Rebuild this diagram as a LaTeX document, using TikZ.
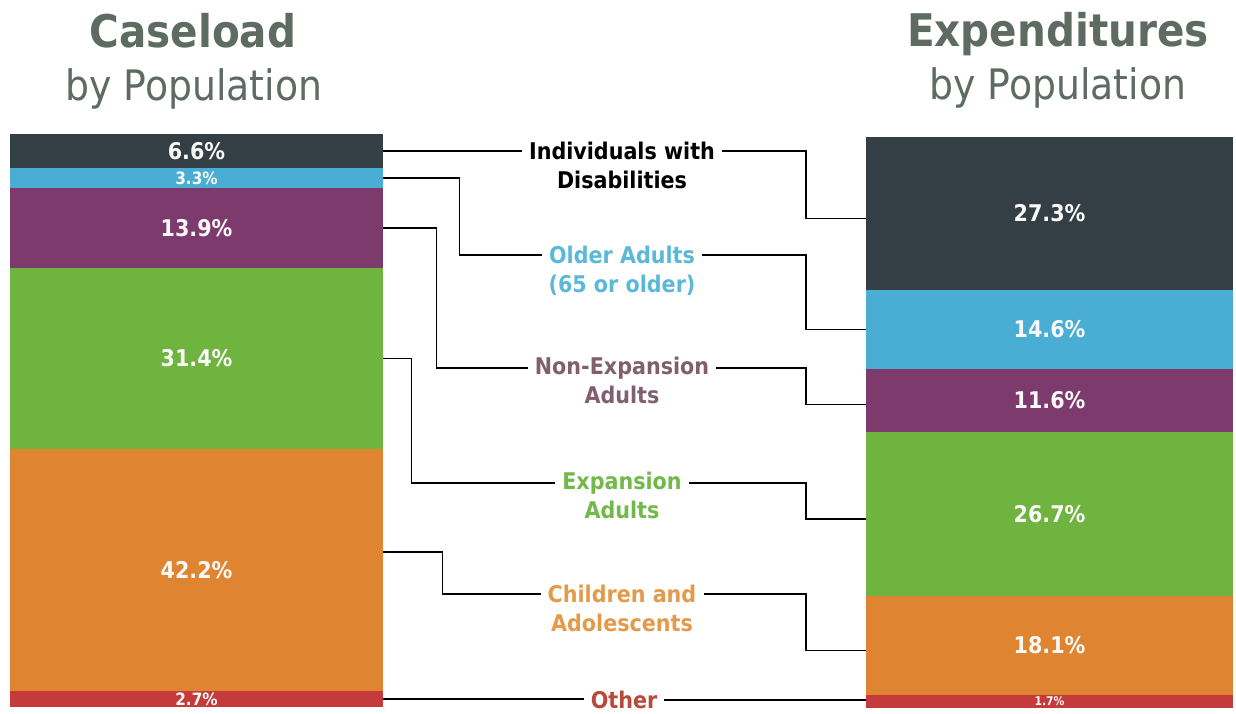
\documentclass[tikz,border=0pt]{standalone}
\usepackage{fontspec}
\setmainfont{DejaVu Sans Condensed}

\definecolor{cdis}{HTML}{333F45}
\definecolor{cold}{HTML}{4AAED4}
\definecolor{cnon}{HTML}{7D3A6C}
\definecolor{cexp}{HTML}{6EB43F}
\definecolor{ckid}{HTML}{DF8430}
\definecolor{coth}{HTML}{C53A3A}
\definecolor{lold}{HTML}{5BB8D8}
\definecolor{lnon}{HTML}{80606F}
\definecolor{lexp}{HTML}{72B84A}
\definecolor{lkid}{HTML}{E39A4A}
\definecolor{loth}{HTML}{B84A3C}
\definecolor{ttlgray}{HTML}{5D6B62}

\tikzset{
    seg/.style={rectangle, inner sep=0pt, draw=none, text=white!95!gray},
    lbl/.style={font=\bfseries\fontsize{23}{23}\selectfont, inner xsep=7pt, inner ysep=0pt},
    ttl/.style={text=ttlgray, anchor=base, inner sep=0pt},
    link/.style={draw=black, line width=1.3pt}
}

\begin{document}
\begin{tikzpicture}[x=1pt, y=-1pt]
        \useasboundingbox (0,0) rectangle (1236,713);
        % Titles
        \node[ttl, font=\bfseries\fontsize{45}{45}\selectfont] (cl-title) at (193,47) {Caseload};
        \node[ttl, font=\fontsize{42}{42}\selectfont] (cl-sub) at (194,100) {by Population};
        \node[ttl, font=\bfseries\fontsize{45}{45}\selectfont] (ex-title) at (1058,46) {Expenditures};
        \node[ttl, font=\fontsize{42}{42}\selectfont] (ex-sub) at (1058,99) {by Population};
        % Caseload bar
        \foreach \name/\top/\bot/\col/\pct/\fs in {
            dis/134/168/cdis/6.6\%/23,
            old/168/188/cold/3.3\%/17,
            non/188/268/cnon/13.9\%/23,
            exp/268/449/cexp/31.4\%/23,
            kid/449/691/ckid/42.2\%/23,
            oth/691/707/coth/2.7\%/17} {
            \node[
                seg,
                fill=\col,
                font=\bfseries\fontsize{\fs}{\fs}\selectfont,
                minimum width=373pt,
                minimum height={(\bot-\top)*1pt}
            ] (L-\name) at (196.5,{(\top+\bot)/2}) {\pct};
        }
        % Expenditures bar
        \foreach \name/\top/\bot/\col/\pct/\fs in {
            dis/137/290/cdis/27.3\%/23,
            old/290/369/cold/14.6\%/23,
            non/369/432/cnon/11.6\%/23,
            exp/432/596/cexp/26.7\%/23,
            kid/596/695/ckid/18.1\%/23,
            oth/695/708/coth/1.7\%/12} {
            \node[
                seg,
                fill=\col,
                font=\bfseries\fontsize{\fs}{\fs}\selectfont,
                minimum width=367pt,
                minimum height={(\bot-\top)*1pt}
            ] (R-\name) at (1049.5,{(\top+\bot)/2}) {\pct};
        }
        % Population labels
        \foreach \name/\y/\first/\second/\col in {
            dis/151/Individuals with/Disabilities/black,
            old/255/Older Adults/(65 or older)/lold,
            non/368/Non-Expansion/Adults/lnon,
            exp/483/Expansion/Adults/lexp,
            kid/594/Children and/Adolescents/lkid} {
            \node[lbl, text=\col] (\name) at (622,\y) {\first};
            \node[lbl, text=\col, anchor=base] (\name-b) at ([yshift=-29pt]\name.base) {\second};
        }
        \node[lbl, text=loth] (oth) at (624,700) {Other};
        % Bend line on the right
        \coordinate (jR) at (806,0);
        % Connect caseload to labels
        \draw[link] (L-dis.east) -- (dis.west);
        \foreach \n/\dx in {old/76,non/53,exp/28} {
            \draw[link] (L-\n.east) -- ++(\dx,0) |- (\n.west);
        }
        \draw[link] ([yshift=18pt]L-kid.east) -- ++(59,0) |- (kid.west);
        \draw[link] (L-oth.east) -- (L-oth.east -| oth.west);
        % Connect labels to expenditures
        \foreach \n/\dy in {dis/-5,old/0,non/-4,exp/-5,kid/-5} {
            \draw[link] (\n.east) -- (\n.east -| jR) |- ([yshift=\dy pt]R-\n.west);
        }
        \draw[link] (oth.east) -- (oth.east -| R-oth.west);
    \end{tikzpicture}
\end{document}
